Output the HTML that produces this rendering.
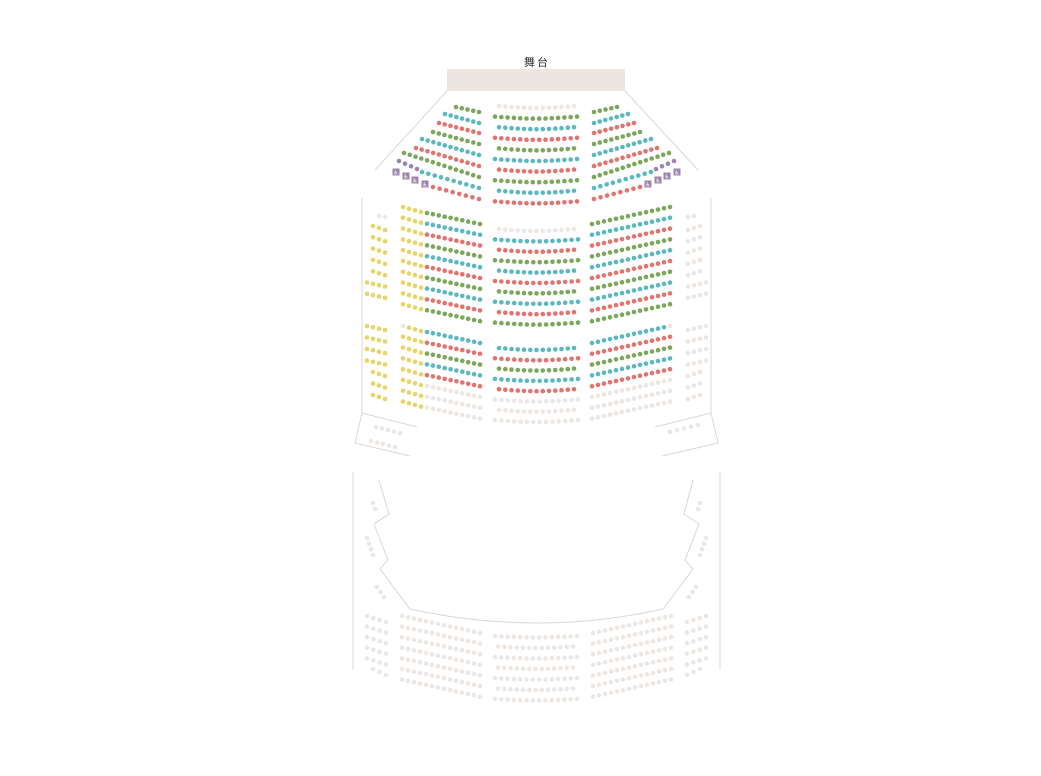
<!DOCTYPE html>
<html><head><meta charset="utf-8"><style>
html,body{margin:0;padding:0;background:#fff;width:1041px;height:776px;overflow:hidden}
svg{display:block}
</style></head><body>
<svg id="s" width="1041" height="776" viewBox="0 0 1041 776" xmlns="http://www.w3.org/2000/svg">
<text x="537" y="66" font-family="'Liberation Sans','Noto Sans CJK SC',sans-serif" font-size="11" text-anchor="middle" fill="#333" letter-spacing="2">舞台</text>
<rect x="447" y="69" width="178" height="22" fill="#ebe6e2"/>
<g fill="none" stroke="#d8d8d8" stroke-width="1">
<line x1="447" y1="91" x2="375" y2="170"/><line x1="625" y1="91" x2="698" y2="170"/>
<line x1="362" y1="198" x2="362" y2="413"/><line x1="711" y1="198" x2="711" y2="413"/>
<polyline points="417,427 362,413 355,443 410,456"/>
<polyline points="655,427 711,413 718,443 662,456"/>
<line x1="353" y1="472" x2="353" y2="670"/><line x1="720" y1="472" x2="720" y2="670"/>
<path d="M379,480 L389,514 L374,524 L388,560 L380,569 L410,609 Q538,637 663,609 L693,569 L685,560 L699,524 L684,514 L693,480"/>
</g>
<g id="d"></g>
</svg>
<script>
var G='#7aa75a',T='#5bb8c1',R='#e27470',Y='#e9d467',E='#ece7e3',P='#9d84ad';
var g=document.getElementById('d'),h='';
function dot(x,y,c){h+='<circle cx="'+x.toFixed(1)+'" cy="'+y.toFixed(1)+'" r="2.3" fill="'+c+'"/>';}
function row(x1,y1,x2,y2,n,c,sag,mir){sag=sag||0;for(var i=0;i<n;i++){var t=n>1?i/(n-1):0;var x=x1+(x2-x1)*t,y=y1+(y2-y1)*t+sag*Math.sin(Math.PI*t);var cc=typeof c=='function'?c(i):c;dot(x,y,cc);if(mir)dot(1073-x,y,cc);}}
var tc=[E,G,T,R,G,T,R,G,T,R];
for(var k=0;k<10;k++){var y=106+k*10.6;if(k%2==1)row(495,y,577,y,14,tc[k],2);else row(499,y,574,y,13,tc[k],2);}
var tw=[[456,107,479,112,5,G],[445,114,479,123,7,T],[439,123,479,133,8,R],[433,132,479,144,9,G],[422,139,479,155,11,T],[416,148,479,166,12,R],[404,153,479,177,14,G],[422,172,479,188,10,T],[433,187,479,199,8,R]];
tw.forEach(function(r){row(r[0],r[1],r[2],r[3],r[4],r[5],0,true);});
row(399,161,417,169,4,P,0,true);
var wc=[[396,172],[406,176],[415,180],[425,184]];
wc.forEach(function(p){[p[0],1073-p[0]].forEach(function(x){h+='<rect x="'+(x-3.5)+'" y="'+(p[1]-3.5)+'" width="7" height="7" fill="'+P+'"/><text x="'+x+'" y="'+(p[1]+2.5)+'" font-size="6" text-anchor="middle" fill="#fff" font-family="DejaVu Sans,sans-serif">&#9855;</text>';});});
var mc=[E,T,R,G,T,R,G,T,R,G];
for(k=0;k<10;k++){y=229+k*10.4;if(k%2==0)row(499,y,574,y,13,mc[k],2);else row(495,y,578,y,14,mc[k],2);}
var lc=[T,R,G,T,R,E,E,E];
for(k=0;k<8;k++){y=348+k*10.3;if(k%2==0)row(499,y,574,y,13,lc[k],2);else row(495,y,578,y,14,lc[k],2);}
var sc=[G,T,R,G,T,R,G,T,R,G];
for(k=0;k<10;k++){var dy=k*10.8;
 row(403,207+dy,421,212+dy,4,Y);
 row(427,213+dy,480,224+dy,10,sc[k]);
 row(592,224+dy,670,207+dy,14,sc[k]);}
var sl=[T,R,G,T,R,E,E,E];
for(k=0;k<8;k++){dy=k*10.8;
 row(403,326+dy,421,331+dy,4,k==0?function(i){return i==0?E:Y}:Y);
 row(427,332+dy,480,343+dy,10,sl[k]);
 row(592,343+dy,670,326+dy,14,k==0?function(i){return i==13?E:sl[0]}:sl[k]);}
row(379,216,385,217,2,E);row(688,217,694,216,2,E);
for(k=0;k<7;k++){y=226+k*11.3;var n=k>=5?4:3,x0=k>=5?367:373;
 row(x0,y,385,y+4,n,Y);row(1073-x0,y,688,y+4,n,E);}
for(k=0;k<7;k++){y=326+k*11.5;n=k<4?4:3;x0=k<4?367:373;
 row(x0,y,385,y+4,n,Y);row(1073-x0,y,688,y+4,n,E);}
row(376,427,400,433,5,E);row(371,441,395,447,5,E);row(670,432,698,425,5,E);
for(k=0;k<7;k++){dy=k*10.6;
 row(402,616+dy,480,633+dy,14,E,0,true);
 y=636+k*10.5;if(k%2==0)row(495,y,577,y,14,E,1.5);else row(498,y,573,y,13,E,1.5);
 if(k<6){n=k==5?3:4;x0=k==5?373:367;row(x0,616+dy,386,622+dy,n,E,0,true);}}
row(373,503,375,509,2,E,0,true);row(367,538,373,555,4,E,0,true);row(377,587,384,597,3,E,0,true);
g.innerHTML=h;
</script>
</body></html>
